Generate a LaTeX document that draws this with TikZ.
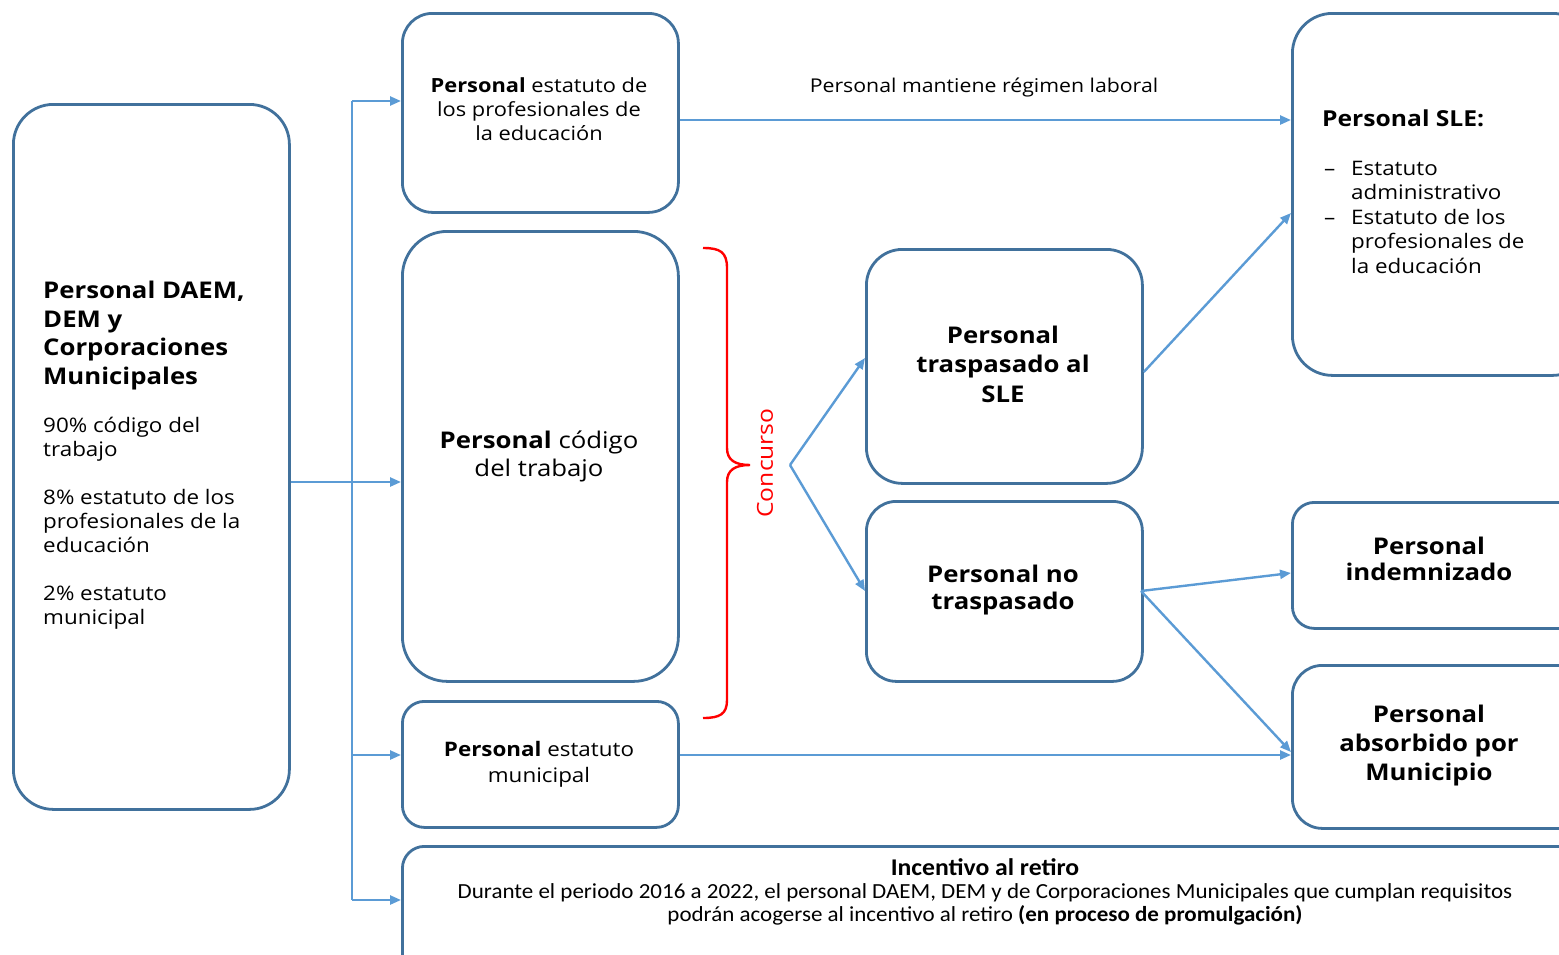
\documentclass[tikz,border=0pt]{standalone}
\usepackage{fontspec}
\setmainfont[FakeStretch=1.12]{Open Sans}
\newfontfamily\condfont[FakeStretch=1.07]{Carlito}
\usetikzlibrary{arrows.meta}
\definecolor{boxblue}{HTML}{41719C}
\definecolor{arrblue}{HTML}{5B9BD5}
\definecolor{bracered}{HTML}{FF0000}
\tikzset{
  box/.style={draw=boxblue, line width=2.8pt, anchor=north west, inner sep=0pt},
  conn/.style={draw=arrblue, line width=2.4pt, -{Triangle[length=11pt,width=9pt]}},
  plain/.style={draw=arrblue, line width=2.4pt},
  txt/.style={inner sep=0pt, align=center, text=black},
  txtl/.style={inner sep=0pt, align=left, text=black, anchor=west},
}
\newcommand{\fs}[2]{\fontsize{#1}{#2}\selectfont}
\newcommand{\dashitem}{\makebox[27pt][l]{–}}
\newcommand{\indentitem}{\makebox[27pt][l]{}}
\begin{document}
\begin{tikzpicture}[x=1pt,y=-1pt]
\useasboundingbox (0,0) rectangle (1559,954);
\clip (0,0) rectangle (1559,954);
% boxes
\node[box, rounded corners=40pt, minimum width=276pt, minimum height=705pt] (src) at (12,103) {};
\node[box, rounded corners=30pt, minimum width=276pt, minimum height=199pt] (prof) at (401,12) {};
\node[box, rounded corners=45pt, minimum width=276pt, minimum height=450pt] (cod) at (401,230) {};
\node[box, rounded corners=22pt, minimum width=276pt, minimum height=126pt] (mun) at (401,700) {};
\node[box, rounded corners=22pt, minimum width=1200pt, minimum height=140pt] (inc) at (401,845) {};
\node[box, rounded corners=40pt, minimum width=300pt, minimum height=362pt] (sle) at (1291,12) {};
\node[box, rounded corners=36pt, minimum width=276pt, minimum height=234pt] (tras) at (865,248) {};
\node[box, rounded corners=30pt, minimum width=276pt, minimum height=180pt] (notras) at (865,500) {};
\node[box, rounded corners=22pt, minimum width=300pt, minimum height=126pt] (ind) at (1291,501) {};
\node[box, rounded corners=30pt, minimum width=300pt, minimum height=163pt] (abs) at (1291,664) {};
% texts
\node[txtl, anchor=north west, font={\fs{23}{28.5}\bfseries}] (srct) at (43,281) {Personal DAEM,\\DEM y\\Corporaciones\\Municipales};
\node[txtl, anchor=north west, font={\fs{20}{24}}] (srcb) at (43,417) {90\% código del\\trabajo\\[24pt]8\% estatuto de los\\profesionales de la\\educación\\[24pt]2\% estatuto\\municipal};
\node[txt, font={\fs{19.5}{24}}] (proft) at (539,109) {\textbf{Personal} estatuto de\\los profesionales de\\la educación};
\node[txt, font={\fs{23}{28}}] (codt) at (539,456) {\textbf{Personal} código\\del trabajo};
\node[txt, font={\fs{20}{26}}] (munt) at (539,764) {\textbf{Personal} estatuto\\municipal};
\node[txt, font={\fs{23}{29.5}\bfseries}] (trast) at (1003,364) {Personal\\traspasado al\\SLE};
\node[txt, font={\fs{23}{27.5}\bfseries}] (notrast) at (1003,590) {Personal no\\traspasado};
\node[txt, font={\fs{23}{26}\bfseries}] (indt) at (1429,559) {Personal\\indemnizado};
\node[txt, font={\fs{23}{29}\bfseries}] (abst) at (1429,746) {Personal\\absorbido por\\Municipio};
\node[txtl, font={\fs{22}{26}\bfseries}] (slet) at (1322,118) {Personal SLE:};
\node[txtl, anchor=north west, font={\fs{20}{24.5}}] (slel) at (1324,161) {\dashitem Estatuto\\\indentitem administrativo\\\dashitem Estatuto de los\\\indentitem profesionales de\\\indentitem la educación};
\node[txt, font={\condfont\fs{21.5}{23}}] (inct) at (985,892) {{\fs{24}{23}\bfseries Incentivo al retiro}\\Durante el periodo 2016 a 2022, el personal DAEM, DEM y de Corporaciones Municipales que cumplan requisitos\\podrán acogerse al incentivo al retiro \textbf{(en proceso de promulgación)}};
\node[txt, font={\fs{19}{23}}] (mant) at (984,87) {Personal mantiene régimen laboral};
\node[txt, text=bracered, rotate=90, font={\fs{22}{26}}] (conc) at (765,463) {Concurso};
% connectors
\coordinate (j) at (352,482);
\coordinate (jt) at (352,101);
\coordinate (jb) at (352,900);
\draw[plain] (src.east |- j) -- (j);
\draw[plain] (jt) -- (jb);
\draw[conn] (jt) -- (prof.west |- jt);
\draw[conn] (j) -- (cod.west |- j);
\draw[conn] (352,755) -- (mun.west |- 0,755);
\draw[conn] (jb) -- (inc.west |- jb);
\draw[conn] (prof.east |- 0,120) -- (sle.west |- 0,120);
\draw[conn] (mun.east |- 0,755) -- (abs.west |- 0,755);
\coordinate (fork) at (790,465);
\draw[conn] (fork) -- (tras.west |- 0,358);
\draw[conn] (fork) -- (notras.west |- 0,591);
\draw[conn] (tras.east |- 0,372) -- (sle.west |- 0,213);
\coordinate (nt) at (1141,591);
\draw[conn] (nt) -- (ind.west |- 0,573);
\draw[conn] (nt) -- (abs.west |- 0,752);
% brace
\draw[bracered, line width=2.4pt] (703,248) .. controls (720,248) and (727,252) .. (727,268) -- (727,448) .. controls (727,460) and (735,465) .. (750,465) .. controls (735,465) and (727,470) .. (727,482) -- (727,700) .. controls (727,714) and (720,718) .. (703,718);
\end{tikzpicture}
\end{document}
